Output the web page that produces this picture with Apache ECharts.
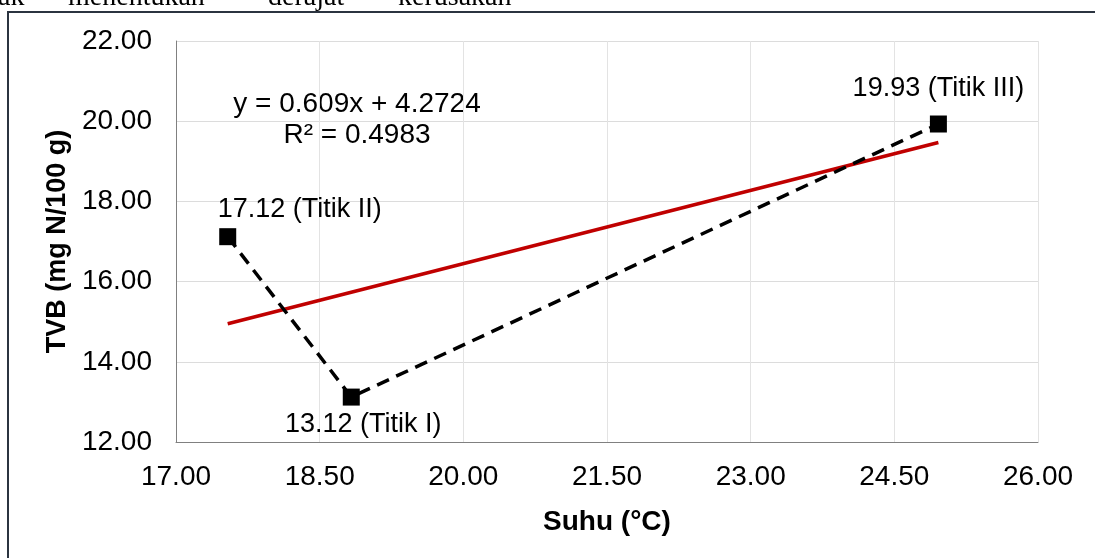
<!DOCTYPE html>
<html lang="id">
<head>
    <meta charset="UTF-8">
    <title>TVB vs Suhu</title>
    <script src="https://cdn.jsdelivr.net/npm/echarts@6/dist/echarts.min.js"></script>
    <style>
        html, body { margin: 0; padding: 0; background: #fff; }
        #main { width: 1095px; height: 558px; }
    </style>
</head>
<body>
    <div id="main"></div>
    <script>
        // nilai yang dibaca dari gambar
        const suhu = [17.54, 18.83, 24.96];
        const tvb = [17.12, 13.12, 19.93];
        const titik = ['Titik II', 'Titik I', 'Titik III'];

        // garis tren (linear) - ujung kiri dan kanan
        const trenX = [17.54, 24.96];
        const trenY = [14.95, 19.47];

        const persamaan = ['y = 0.609x + 4.2724', 'R\u00B2 = 0.4983'];
        const teksAtas = ['ak', 'menentukan', 'derajat', 'kerusakan'];

        const font = "'Liberation Sans', Arial, sans-serif";

        // posisi label tiap titik (urutan sama dengan data)
        const labelPos = [
            { position: 'top', offset: [72, 0] },
            { position: 'bottom', offset: [12, 0] },
            { position: 'top', offset: [0, -8] }
        ];

        const titikData = suhu.map(function (x, i) {
            return {
                value: [x, tvb[i]],
                label: {
                    show: true,
                    position: labelPos[i].position,
                    offset: labelPos[i].offset,
                    formatter: tvb[i].toFixed(2) + ' (' + titik[i] + ')'
                }
            };
        });

        const trenData = trenX.map(function (x, i) { return [x, trenY[i]]; });

        const kataX = [-2, 68, 268, 398];

        var myChart = echarts.init(document.getElementById('main'));
        option = {
            backgroundColor: '#fff',
            animation: false,
            textStyle: { fontFamily: font },
            grid: { left: 176, right: 57, top: 41, bottom: 116 },
            xAxis: {
                type: 'value',
                min: 17, max: 26, interval: 1.5,
                name: 'Suhu (\u00B0C)',
                nameLocation: 'middle',
                nameGap: 66,
                nameTextStyle: { fontFamily: font, fontSize: 28, fontWeight: 'bold', color: '#000' },
                axisLine: { show: true, lineStyle: { color: '#808080', width: 1 } },
                axisTick: { show: false },
                axisLabel: {
                    margin: 21, fontSize: 28, color: '#000', fontFamily: font,
                    formatter: function (v) { return v.toFixed(2); }
                },
                splitLine: { show: true, lineStyle: { color: '#e3e3e3', width: 1 } }
            },
            yAxis: {
                type: 'value',
                min: 12, max: 22, interval: 2,
                name: 'TVB (mg N/100 g)',
                nameLocation: 'middle',
                nameGap: 99,
                nameTextStyle: { fontFamily: font, fontSize: 27, fontWeight: 'bold', color: '#000' },
                axisLine: { show: true, lineStyle: { color: '#808080', width: 1 } },
                axisTick: { show: false },
                axisLabel: {
                    margin: 24, fontSize: 28, color: '#000', fontFamily: font,
                    formatter: function (v) { return v.toFixed(2); }
                },
                splitLine: { show: true, lineStyle: { color: '#dcdcdc', width: 1 } }
            },
            graphic: [
                {
                    type: 'rect', silent: true,
                    shape: { x: 8, y: 12, width: 1200, height: 700 },
                    style: { fill: 'none', stroke: '#2b3440', lineWidth: 2 }
                },
                {
                    type: 'text', x: 357, y: 120,
                    style: {
                        text: persamaan.join('\n'),
                        align: 'center', verticalAlign: 'middle',
                        lineHeight: 31, fontSize: 28, fontFamily: font, fill: '#000'
                    }
                },
                {
                    type: 'group',
                    children: teksAtas.map(function (w, i) {
                        return {
                            type: 'text', x: kataX[i], y: -2,
                            style: {
                                text: w, align: 'left', verticalAlign: 'middle',
                                fontSize: 28, fontFamily: "'Liberation Serif', 'Times New Roman', serif", fill: '#000'
                            }
                        };
                    })
                }
            ],
            series: [
                {
                    type: 'line',
                    data: trenData,
                    symbol: 'none',
                    lineStyle: { color: '#c00000', width: 3.5 },
                    z: 2
                },
                {
                    type: 'line',
                    data: titikData,
                    symbol: 'rect',
                    symbolSize: 17,
                    itemStyle: { color: '#000' },
                    lineStyle: { color: '#000', width: 3.5, type: [13, 8] },
                    label: { fontSize: 27, color: '#000', fontFamily: font, distance: 5 },
                    z: 3
                }
            ]
        };
        myChart.setOption(option);
    </script>
</body>
</html>
